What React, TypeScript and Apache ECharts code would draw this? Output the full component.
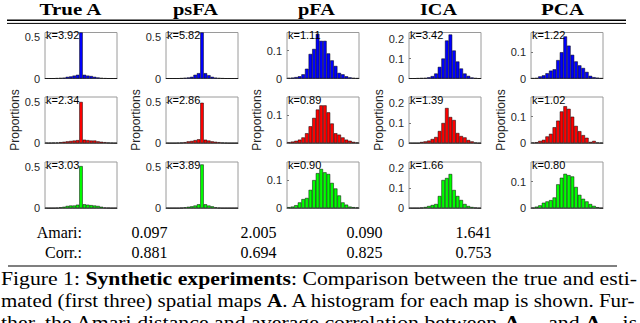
import React, { useEffect, useRef } from 'react';
import * as echarts from 'echarts';

// ---- data ----
const methods = ['True A', 'psFA', 'pFA', 'ICA', 'PCA'];
const rowColors = ['#0000ff', '#ff0000', '#00ff00'];

// histogram proportions per bin (row 1 = blue, row 2 = red, row 3 = green)
const trueA1 = [0, 0, 0, 0.003, 0.006, 0.01, 0.02, 0.025, 0.035, 0.045, 0.56, 0.045, 0.035, 0.03, 0.02, 0.012, 0.006, 0.002, 0, 0, 0];
const trueA2 = [0.002, 0.002, 0.004, 0.006, 0.01, 0.015, 0.02, 0.025, 0.03, 0.035, 0.5, 0.04, 0.035, 0.03, 0.03, 0.02, 0.015, 0.01, 0.005, 0.002, 0];
const trueA3 = [0, 0, 0, 0.002, 0.008, 0.015, 0.025, 0.03, 0.03, 0.04, 0.51, 0.045, 0.04, 0.035, 0.03, 0.025, 0.015, 0.005, 0.002, 0, 0];
const psFA1 = [0, 0, 0, 0, 0.003, 0.008, 0.012, 0.02, 0.045, 0.065, 0.56, 0.065, 0.04, 0.02, 0.01, 0.005, 0.002, 0, 0, 0, 0];
const psFA2 = [0, 0, 0, 0.002, 0.005, 0.01, 0.02, 0.025, 0.035, 0.045, 0.49, 0.04, 0.03, 0.02, 0.015, 0.01, 0.005, 0.002, 0, 0, 0];
const psFA3 = [0, 0, 0, 0, 0.003, 0.008, 0.015, 0.02, 0.03, 0.045, 0.53, 0.045, 0.03, 0.02, 0.008, 0.003, 0, 0, 0, 0, 0];
const pFA1 = [0.002, 0.003, 0.005, 0.008, 0.015, 0.035, 0.088, 0.106, 0.16, 0.135, 0.135, 0.09, 0.065, 0.045, 0.02, 0.015, 0.008, 0.004, 0.002, 0.001];
const pFA2 = [0.003, 0.005, 0.008, 0.012, 0.02, 0.035, 0.06, 0.09, 0.12, 0.135, 0.135, 0.11, 0.07, 0.035, 0.03, 0.02, 0.012, 0.008, 0.004, 0.002];
const pFA3 = [0.003, 0.005, 0.01, 0.02, 0.032, 0.036, 0.065, 0.1, 0.125, 0.14, 0.128, 0.122, 0.09, 0.07, 0.045, 0.02, 0.012, 0.005, 0.003, 0.002];
const ica1 = [0, 0, 0.001, 0.002, 0.003, 0.006, 0.012, 0.025, 0.058, 0.1, 0.19, 0.22, 0.14, 0.085, 0.05, 0.025, 0.013, 0.005, 0.002, 0];
const ica2 = [0, 0, 0, 0.005, 0.008, 0.012, 0.02, 0.03, 0.06, 0.1, 0.175, 0.13, 0.115, 0.05, 0.035, 0.028, 0.015, 0.008, 0.002, 0];
const ica3 = [0, 0, 0, 0.002, 0.005, 0.01, 0.015, 0.02, 0.06, 0.14, 0.15, 0.17, 0.09, 0.06, 0.04, 0.02, 0.01, 0.005, 0.002, 0];
const pca1 = [0.001, 0.002, 0.008, 0.012, 0.02, 0.03, 0.035, 0.07, 0.1, 0.16, 0.125, 0.09, 0.065, 0.05, 0.04, 0.025, 0.01, 0.005, 0.003, 0.001];
const pca2 = [0.002, 0.003, 0.008, 0.012, 0.025, 0.035, 0.06, 0.085, 0.12, 0.14, 0.13, 0.1, 0.065, 0.045, 0.03, 0.02, 0.004, 0.008, 0.002, 0.001];
const pca3 = [0.001, 0.005, 0.01, 0.02, 0.025, 0.03, 0.04, 0.09, 0.115, 0.13, 0.125, 0.12, 0.08, 0.05, 0.035, 0.025, 0.015, 0.008, 0.003, 0];

const kRow1 = [3.92, 5.82, 1.11, 3.42, 1.22];
const kRow2 = [2.34, 2.86, 0.89, 1.39, 1.02];
const kRow3 = [3.03, 3.89, 0.9, 1.66, 0.8];

const yMax = [0.56, 0.56, 0.165, 0.23, 0.175];
const yTicks = [[0, 0.5], [0, 0.5], [0, 0.1], [0, 0.1, 0.2], [0, 0.1]];

const tableLabels = ['Amari:', 'Corr.:'];
const amari = [0.097, 2.005, 0.09, 1.641];
const corr = [0.881, 0.694, 0.825, 0.753];

// ---- layout ----
const COL_LEFT = [45, 166, 287, 409, 531];
const ROW_TOP = [32.5, 97, 162];
const PW = 72;
const PH = 46;
const TITLE_CX = [70.5, 195.5, 316.5, 438.5, 562.5];
const TITLE_W = [63, 45, 37, 37, 43];
const NUM_CX = [149.5, 258.5, 364.5, 473.5];

const SERIF = '"Liberation Serif", "Times New Roman", serif';
const SANS = '"Liberation Sans", Arial, Helvetica, sans-serif';

export default function App() {
  const ref = useRef<HTMLDivElement>(null);
  useEffect(() => {
    const el = ref.current;
    if (!el) return;
    const chart = echarts.init(el, null, { renderer: 'svg' });
    const cv = document.createElement('canvas').getContext('2d') as CanvasRenderingContext2D;
    const measure = (t: string, font: string) => {
      cv.font = font;
      return cv.measureText(t).width;
    };

    const rows = [
      [trueA1, psFA1, pFA1, ica1, pca1],
      [trueA2, psFA2, pFA2, ica2, pca2],
      [trueA3, psFA3, pFA3, ica3, pca3],
    ];
    const kRows = [kRow1, kRow2, kRow3];

    const grid: any[] = [];
    const xAxis: any[] = [];
    const yAxis: any[] = [];
    const series: any[] = [];
    const graphics: any[] = [];

    rows.forEach((row, r) => {
      row.forEach((vals, c) => {
        const idx = grid.length;
        grid.push({
          left: COL_LEFT[c], top: ROW_TOP[r], width: PW, height: PH,
          show: true, borderColor: '#9a9a9a', borderWidth: 1, containLabel: false,
        });
        xAxis.push({
          gridIndex: idx, type: 'category', data: vals.map((_, j) => String(j)),
          boundaryGap: true,
          axisLine: { show: true, lineStyle: { color: '#666', width: 1 } },
          axisTick: { show: false }, axisLabel: { show: false }, splitLine: { show: false },
        });
        yAxis.push({
          gridIndex: idx, type: 'value', min: 0, max: yMax[c],
          axisLine: { show: false }, splitLine: { show: false },
          axisTick: { show: true, inside: true, length: 2, lineStyle: { color: '#777' }, customValues: yTicks[c] },
          axisLabel: {
            customValues: yTicks[c], margin: 5, fontSize: 11, fontFamily: SANS, color: '#262626',
            formatter: (v: number) => String(v),
          },
          name: r === 1 ? 'Proportions' : '',
          nameLocation: 'middle', nameGap: 20,
          nameTextStyle: { fontSize: 12, fontFamily: SANS, color: '#262626' },
        });
        series.push({
          type: 'bar', xAxisIndex: idx, yAxisIndex: idx, data: vals,
          barWidth: '100%', silent: true,
          itemStyle: { color: rowColors[r], borderColor: '#000', borderWidth: 0.5 },
        });
        graphics.push({
          type: 'text', x: COL_LEFT[c] + 1, y: ROW_TOP[r] - 3, z: 100,
          style: {
            text: 'k=' + kRows[r][c].toFixed(2), fontSize: 11, fontFamily: SANS, fill: '#000',
            textAlign: 'left', textVerticalAlign: 'top',
          },
        });
      });
    });

    // titles
    methods.forEach((m, i) => {
      const wNat = measure(m, `bold 16px ${SERIF}`);
      graphics.push({
        type: 'text', x: TITLE_CX[i], y: 9.6, scaleX: TITLE_W[i] / wNat, z: 100,
        style: {
          text: m, fontSize: 16, fontWeight: 'bold', fontFamily: SERIF, fill: '#000',
          textAlign: 'center', textVerticalAlign: 'middle',
        },
      });
    });

    // rules
    graphics.push({ type: 'line', z: 100, shape: { x1: 7, y1: 20.2, x2: 626, y2: 20.2 }, style: { stroke: '#000', lineWidth: 1.6 } });
    graphics.push({ type: 'line', z: 100, shape: { x1: 7, y1: 23.4, x2: 626, y2: 23.4 }, style: { stroke: '#000', lineWidth: 1 } });
    graphics.push({ type: 'line', z: 100, shape: { x1: 8, y1: 266, x2: 617, y2: 266 }, style: { stroke: '#000', lineWidth: 1.2 } });

    // table
    const tableRows = [amari, corr];
    const tableY = [232.1, 252.1];
    tableRows.forEach((vals, r) => {
      graphics.push({
        type: 'text', x: 82, y: tableY[r], z: 100,
        style: { text: tableLabels[r], fontSize: 16, fontFamily: SERIF, fill: '#000', textAlign: 'right', textVerticalAlign: 'middle' },
      });
      vals.forEach((v, i) => {
        graphics.push({
          type: 'text', x: NUM_CX[i], y: tableY[r], z: 100,
          style: { text: v.toFixed(3), fontSize: 16, fontFamily: SERIF, fill: '#000', textAlign: 'center', textVerticalAlign: 'middle' },
        });
      });
    });

    // caption
    type Seg = [string, 'n' | 'b' | 's'];
    const capLines: Seg[][] = [
      [['Figure 1: ', 'n'], ['Synthetic experiments', 'b'], [': Comparison between the true and esti-', 'n']],
      [['mated (first three) spatial maps ', 'n'], ['A', 'b'], ['. A histogram for each map is shown. Fur-', 'n']],
      [['ther, the Amari distance and average correlation between ', 'n'], ['A', 'b'], ['true', 's'], [' and ', 'n'], ['A', 'b'], ['est', 's'], [' is', 'n']],
    ];
    const fontOf = (k: string) =>
      k === 'b' ? `bold 18px ${SERIF}` : k === 's' ? `12px ${SERIF}` : `18px ${SERIF}`;
    const capY = [278.9, 300.9, 322.9];
    capLines.forEach((segs, i) => {
      const text = segs.map(([t, k]) => (k === 'n' ? t : `{${k}|${t}}`)).join('');
      const wNat = segs.reduce((s, [t, k]) => s + measure(t, fontOf(k)), 0);
      graphics.push({
        type: 'text', x: 1, y: capY[i], scaleX: 636 / wNat, z: 100,
        style: {
          text, fontSize: 18, fontFamily: SERIF, fill: '#000',
          textAlign: 'left', textVerticalAlign: 'middle',
          rich: {
            b: { fontSize: 18, fontFamily: SERIF, fontWeight: 'bold', fill: '#000' },
            s: { fontSize: 12, fontFamily: SERIF, fill: '#000', padding: [14, 0, 0, 0] },
          },
        },
      });
    });

    chart.setOption({
      animation: false,
      backgroundColor: '#ffffff',
      grid, xAxis, yAxis, series,
      graphic: { elements: graphics },
    });
    return () => chart.dispose();
  }, []);
  return <div ref={ref} style={{ position: 'absolute', left: 0, top: 0, width: 640, height: 323 }} />;
}
